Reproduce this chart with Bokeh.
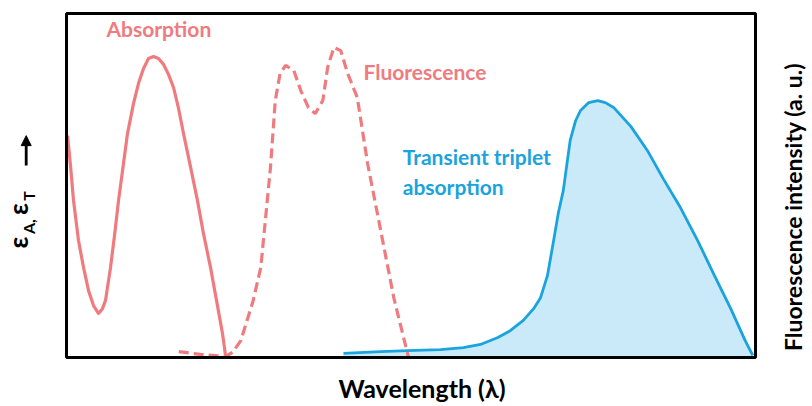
from bokeh.plotting import figure
from bokeh.models import Range1d, Label, Arrow, NormalHead
from bokeh.embed import file_html
from bokeh.resources import INLINE
import math

# Normalised wavelength axis (0-100) and relative intensity (0-100)
abs_x = [0.15, 0.58, 1.02, 1.74, 2.47, 3.19, 3.92, 4.64, 5.22, 5.66, 6.39, 6.97,
         7.55, 8.27, 8.85, 9.72, 10.45, 11.18, 11.9, 12.63, 13.35, 14.08, 14.8,
         15.53, 16.26, 16.98, 17.99, 19.01, 19.88, 20.9, 21.77, 22.64, 23.08]
abs_y = [64.5, 55.8, 45.6, 34.0, 26.2, 19.5, 15.1, 12.8, 14.2, 16.6, 26.2, 35.5,
         45.6, 56.4, 65.1, 73.8, 79.7, 84.0, 86.9, 87.5, 86.9, 85.2, 82.3,
         78.5, 72.4, 65.1, 55.5, 45.6, 36.0, 26.2, 16.6, 7.0, 0.6]

fluo_x = [16.3, 19.4, 23.1, 24.1, 25.3, 27.1, 28.2, 28.9, 29.6, 30.3, 31.0, 31.8,
          33.0, 34.0, 35.1, 36.1, 37.2, 37.9, 38.8, 39.8, 40.8, 42.2, 43.7, 45.6,
          47.5, 49.6]
fluo_y = [1.7, 0.9, 0.3, 1.5, 4.9, 16.6, 26.2, 40.7, 55.2, 74.7, 82.6, 84.9,
          83.4, 77.6, 72.7, 70.9, 74.7, 84.3, 90.1, 89.2, 82.6, 75.6, 56.4, 36.9,
          17.4, 0.3]

trip_x = [40.2, 45.6, 49.5, 54.3, 57.6, 60.1, 62.6, 64.4, 66.3, 67.8, 68.8, 69.8,
          70.7, 71.4, 72.1, 72.7, 73.1, 73.9, 74.6, 75.8, 77.1, 78.2, 79.4, 81.9,
          84.3, 86.6, 89.1, 91.6, 93.9, 96.4, 98.5, 99.6]
trip_y = [1.2, 1.7, 2.0, 2.3, 2.9, 3.8, 5.8, 7.8, 10.8, 14.2, 17.4, 23.8,
          34.0, 42.2, 48.5, 57.3, 63.1, 68.9, 71.8, 74.1, 74.7, 74.1, 72.7, 67.2,
          60.2, 52.0, 43.6, 34.0, 24.4, 14.2, 4.9, 0.6]

PINK = "#F07B7F"
BLUE = "#1AA3DC"
FILL = "#CBEAF9"
FONT = "Lato"

# The frame spans the whole canvas; the plotting box is drawn as a quad so the
# axis titles can sit in the margin area around it.
p = figure(width=812, height=406, output_backend="svg", toolbar_location=None,
           x_range=Range1d(-9.58, 108.27), y_range=Range1d(-14.24, 103.78),
           x_axis_location=None, y_axis_location=None,
           min_border=0)
p.grid.visible = False
p.outline_line_color = None
p.background_fill_color = "white"
p.border_fill_color = "white"

# Transient triplet absorption: filled band with outline
p.varea(x=trip_x, y1=[0] * len(trip_x), y2=trip_y, fill_color=FILL)
p.line(trip_x, trip_y, line_color=BLUE, line_width=2.8, line_join="round")

# Ground-state absorption and fluorescence
p.line(abs_x, abs_y, line_color=PINK, line_width=3.2, line_join="round")
p.line(fluo_x, fluo_y, line_color=PINK, line_width=3.2, line_dash="10 5")

# Plot box
p.quad(left=[0], right=[100], bottom=[0], top=[100], fill_color=None,
       line_color="black", line_width=3)

def lab(x, y, text, color, size, **kw):
    p.add_layout(Label(x=x, y=y, text=text, text_color=color,
                       text_font=FONT, text_font_style="bold",
                       text_font_size=f"{size}px", **kw))

lab(5.8, 92.15, "Absorption", PINK, 21)
lab(43.1, 79.65, "Fluorescence", PINK, 21)
lab(48.8, 54.9, "Transient triplet", BLUE, 21)
lab(48.8, 46.2, "absorption", BLUE, 21)

# Axis titles
lab(51.6, -13.1, "Wavelength (λ)", "black", 25, text_align="center")
lab(107.4, 43.75, "Fluorescence intensity (a. u.)", "black", 23,
    text_align="center", angle=math.pi / 2)

# Left title: ε_A, ε_T with an upward arrow
lab(-4.7, 31.7, "ε", "black", 26, angle=math.pi / 2)
lab(-4.15, 35.9, "A,", "black", 16, angle=math.pi / 2)
lab(-4.7, 41.4, "ε", "black", 26, angle=math.pi / 2)
lab(-4.15, 45.6, "T", "black", 16, angle=math.pi / 2)

p.add_layout(Arrow(x_start=-5.85, y_start=55.8, x_end=-5.85, y_end=64.5,
                   line_width=2.8, line_color="black",
                   end=NormalHead(size=10, fill_color="black", line_color="black")))

open("out.html", "w").write(file_html(p, INLINE))
